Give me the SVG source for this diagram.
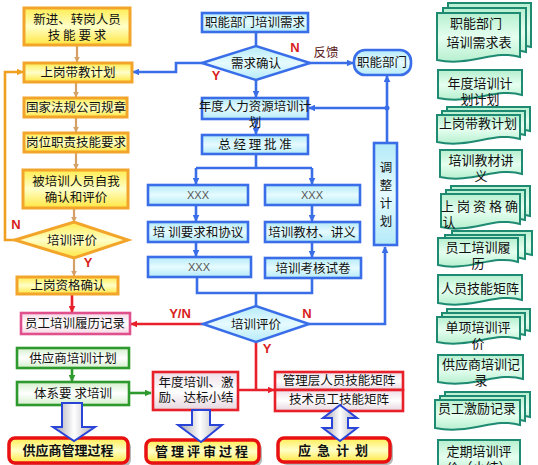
<svg xmlns="http://www.w3.org/2000/svg" width="538" height="465" viewBox="0 0 538 465">
<defs>
<linearGradient id="gY" x1="0" y1="0" x2="0" y2="1"><stop offset="0" stop-color="#ffec50"/><stop offset="0.5" stop-color="#ffffc8"/><stop offset="1" stop-color="#ffe640"/></linearGradient>
<linearGradient id="gB" x1="0" y1="0" x2="0" y2="1"><stop offset="0" stop-color="#b4eaf8"/><stop offset="0.5" stop-color="#e6fbff"/><stop offset="1" stop-color="#b4eaf8"/></linearGradient>
<linearGradient id="gG" x1="0" y1="0" x2="0" y2="1"><stop offset="0" stop-color="#d4efcc"/><stop offset="0.5" stop-color="#ffffff"/><stop offset="1" stop-color="#d4efcc"/></linearGradient>
<linearGradient id="gP" x1="0" y1="0" x2="0" y2="1"><stop offset="0" stop-color="#f6d6e4"/><stop offset="0.5" stop-color="#ffffff"/><stop offset="1" stop-color="#f6d6e4"/></linearGradient>
<linearGradient id="gR" x1="0" y1="0" x2="0" y2="1"><stop offset="0" stop-color="#eedde6"/><stop offset="0.5" stop-color="#ffffff"/><stop offset="1" stop-color="#e6d6de"/></linearGradient>
<linearGradient id="gD" x1="0" y1="0" x2="0" y2="1"><stop offset="0" stop-color="#b6efcf"/><stop offset="0.5" stop-color="#e6fff0"/><stop offset="1" stop-color="#b6efcf"/></linearGradient>
<linearGradient id="gA" x1="0" y1="0" x2="1" y2="0"><stop offset="0" stop-color="#9c9ca8"/><stop offset="0.5" stop-color="#ffffff"/><stop offset="1" stop-color="#aaaab4"/></linearGradient>
<marker id="mB" viewBox="0 0 10 10" refX="9" refY="5" markerWidth="7" markerHeight="7" markerUnits="userSpaceOnUse" orient="auto"><path d="M0,0 L10,5 L0,10 z" fill="#3a6ee8"/></marker>
<marker id="mR" viewBox="0 0 10 10" refX="9" refY="5" markerWidth="7" markerHeight="7" markerUnits="userSpaceOnUse" orient="auto"><path d="M0,0 L10,5 L0,10 z" fill="#e8202a"/></marker>
<marker id="mT" viewBox="0 0 10 10" refX="9" refY="5" markerWidth="6" markerHeight="6" markerUnits="userSpaceOnUse" orient="auto"><path d="M0,0 L10,5 L0,10 z" fill="#d4a068"/></marker>
<marker id="mO" viewBox="0 0 10 10" refX="9" refY="5" markerWidth="7" markerHeight="7" markerUnits="userSpaceOnUse" orient="auto"><path d="M0,0 L10,5 L0,10 z" fill="#f0a020"/></marker>
<marker id="mG" viewBox="0 0 10 10" refX="9" refY="5" markerWidth="7" markerHeight="7" markerUnits="userSpaceOnUse" orient="auto"><path d="M0,0 L10,5 L0,10 z" fill="#2e9a2e"/></marker>
</defs>
<style>
text{font-family:"Noto Sans CJK SC","Liberation Sans",sans-serif;font-size:12.5px;fill:#111;text-anchor:middle}
.ob{fill:url(#gY);stroke:#f2a52a;stroke-width:3}
.bb{fill:url(#gB);stroke:#3a6ee8;stroke-width:2.6}
.gb{fill:url(#gG);stroke:#2e9a2e;stroke-width:2.6}
.pb{fill:url(#gP);stroke:#e0508c;stroke-width:2.6}
.rb{fill:url(#gR);stroke:#e8202a;stroke-width:2.6}
.fb{fill:url(#gY);stroke:#e81010;stroke-width:3.5}
.sh{fill:#b8b8b8}
.doc{fill:url(#gD);stroke:#1e8a72;stroke-width:2}
.ba{fill:url(#gA);stroke:#2a44d8;stroke-width:2}
.lb{fill:none;stroke:#3a6ee8;stroke-width:2.6}
.lr{fill:none;stroke:#e8202a;stroke-width:2.6}
.lt{fill:none;stroke:#d4a068;stroke-width:2.2}
.lo{fill:none;stroke:#f0a020;stroke-width:2.6}
.lg{fill:none;stroke:#2e9a2e;stroke-width:2.6}
.lbl{fill:#d81e1e;font-weight:bold;font-family:"Liberation Sans",sans-serif;font-size:13px}
.x{font-family:"Liberation Sans",sans-serif;font-size:11px;fill:#555}
.bold{font-weight:bold;font-size:13px}
.d{font-size:13px}
</style>

<g id="connectors">
<path class="lt" d="M77,45 V62" marker-end="url(#mT)"/>
<path class="lt" d="M76,82 V97" marker-end="url(#mT)"/>
<path class="lt" d="M76,117 V132" marker-end="url(#mT)"/>
<path class="lt" d="M76,152 V169" marker-end="url(#mT)"/>
<path class="lt" d="M74,208 V222" marker-end="url(#mT)"/>
<path class="lt" d="M74,258 V276" marker-end="url(#mT)"/>
<path class="lr" d="M72,294 V312" marker-end="url(#mR)"/>
<path class="lo" d="M15,240 H5 V72 H23" marker-end="url(#mO)"/>
<path class="lg" d="M72,368 V381" marker-end="url(#mG)"/>
<path class="lg" d="M129,393 H151" marker-end="url(#mG)"/>
<path class="lb" d="M256,32 V46"/>
<path class="lb" d="M202,63 H176 V72 H133" marker-end="url(#mB)"/>
<path class="lb" d="M310,63 H353" marker-end="url(#mB)"/>
<path class="lb" d="M256,80 V97" marker-end="url(#mB)"/>
<path class="lb" d="M256,119 V134" marker-end="url(#mB)"/>
<path class="lb" d="M387,143 V76" marker-end="url(#mB)"/>
<path class="lb" d="M387,108 H309" marker-end="url(#mB)"/>
<circle cx="387" cy="108" r="2.5" fill="#3a6ee8"/>
<path class="lb" d="M256,154 V168 M196,168 H312"/>
<path class="lb" d="M196,168 V184" marker-end="url(#mB)"/>
<path class="lb" d="M312,168 V184" marker-end="url(#mB)"/>
<path class="lb" d="M196,205 V221" marker-end="url(#mB)"/>
<path class="lb" d="M312,205 V221" marker-end="url(#mB)"/>
<path class="lb" d="M196,242 V256" marker-end="url(#mB)"/>
<path class="lb" d="M312,242 V257" marker-end="url(#mB)"/>
<path class="lb" d="M197,277 V293 H312 V278 M256,293 V306"/>
<path class="lb" d="M309,324 H385 V247" marker-end="url(#mB)"/>
<path class="lr" d="M203,324 H131" marker-end="url(#mR)"/>
<path class="lr" d="M256,342 V390 M239,390 H274" marker-end="url(#mR)"/>
</g>

<g id="n-xinjin"><rect class="ob" x="24" y="8" width="106" height="37"/><text x="77" y="23.5">新进、转岗人员</text><text x="77" y="40">技 能 要 求</text></g>
<g id="n-daijiao"><rect class="ob" x="24" y="63" width="108" height="19"/><text x="78" y="77">上岗带教计划</text></g>
<g id="n-fagui"><rect class="ob" x="24" y="98" width="103" height="19"/><text x="76" y="112">国家法规公司规章</text></g>
<g id="n-gangwei"><rect class="ob" x="24" y="133" width="104" height="19"/><text x="76" y="147">岗位职责技能要求</text></g>
<g id="n-beipeixun"><rect class="ob" x="23" y="170" width="105" height="38"/><text x="76" y="185.5">被培训人员自我</text><text x="76" y="201.5">确认和评价</text></g>
<g id="n-pingjia1"><polygon class="ob" points="15,240 74,222 128,240 74,258"/><text x="72" y="244.5">培训评价</text></g>
<g id="n-zige"><rect class="ob" x="17" y="277" width="101" height="17"/><text x="68" y="290">上岗资格确认</text></g>
<g id="n-lvli"><rect class="pb" x="21" y="313" width="109" height="21"/><text x="75" y="328">员工培训履历记录</text></g>
<g id="n-gys"><rect class="gb" x="17" y="348" width="112" height="20"/><text x="73" y="362.5">供应商培训计划</text></g>
<g id="n-tixi"><rect class="gb" x="17" y="382" width="112" height="23"/><text x="73" y="398">体系要 求培训</text></g>

<g id="n-xuqiu"><rect class="bb" x="202" y="13" width="106" height="19"/><text x="255" y="27">职能部门培训需求</text></g>
<g id="n-queren"><polygon class="bb" points="202,63 256,46 310,63 256,80"/><text x="256" y="67.5">需求确认</text></g>
<g id="n-bumen"><rect class="bb" x="354" y="50" width="57" height="25" rx="11"/><text x="382" y="67">职能部门</text></g>
<g id="n-niandu"><rect class="bb" x="202" y="98" width="106" height="21"/><text x="255" y="111">年度人力资源培训计</text><text x="255" y="127">划</text></g>
<g id="n-pizhun"><rect class="bb" x="202" y="135" width="106" height="19"/><text x="255" y="149">总 经 理 批 准</text></g>
<g id="n-xxx1"><rect class="bb" x="148" y="185" width="100" height="20"/><text class="x" x="198" y="199">XXX</text></g>
<g id="n-xxx2"><rect class="bb" x="265" y="185" width="95" height="20"/><text class="x" x="312" y="199">XXX</text></g>
<g id="n-xieyi"><rect class="bb" x="148" y="222" width="100" height="20"/><text x="198" y="236.5">培 训要求和协议</text></g>
<g id="n-jiaocai"><rect class="bb" x="265" y="222" width="95" height="20"/><text x="312" y="236.5">培训教材、讲义</text></g>
<g id="n-xxx3"><rect class="bb" x="148" y="257" width="103" height="20"/><text class="x" x="199" y="271">XXX</text></g>
<g id="n-shijuan"><rect class="bb" x="265" y="258" width="96" height="20"/><text x="313" y="272.5">培训考核试卷</text></g>
<g id="n-pingjia2"><polygon class="bb" points="203,324 256,306 309,324 256,342"/><text x="256" y="328.5">培训评价</text></g>
<g id="n-tiaozheng"><rect class="bb" x="374" y="143" width="23" height="102"/><text x="386" y="172" font-size="14">调</text><text x="386" y="190" font-size="14">整</text><text x="386" y="208" font-size="14">计</text><text x="386" y="226" font-size="14">划</text></g>

<g id="n-xiaojie"><rect class="rb" x="153" y="372" width="85" height="38"/><text x="196" y="386.5">年度培训、激</text><text x="196" y="401.5">励、达标小结</text></g>
<g id="n-guanli"><rect class="rb" x="275" y="372" width="128" height="18"/><text x="339" y="385">管理层人员技能矩阵</text></g>
<g id="n-jishu"><rect class="rb" x="275" y="390" width="128" height="21"/><text x="339" y="404">技术员工技能矩阵</text></g>

<g id="n-gysgl"><rect class="sh" x="12" y="441" width="119" height="25" rx="6"/><rect class="fb" x="9" y="438" width="119" height="25" rx="6"/><text class="bold" x="68" y="455">供应商管理过程</text></g>
<g id="n-pingshen"><rect class="sh" x="149" y="443" width="113" height="23" rx="6"/><rect class="fb" x="146" y="440" width="113" height="23" rx="6"/><text class="bold" x="203" y="456" letter-spacing="3">管理评审过程</text></g>
<g id="n-yingji"><rect class="sh" x="281" y="441" width="112" height="24" rx="6"/><rect class="fb" x="278" y="438" width="112" height="24" rx="6"/><text class="bold" x="336" y="455" letter-spacing="6">应急计划</text></g>

<g id="blockarrows">
<path class="ba" d="M62,403 H82 V427 H95 L74,441 L53,427 H62 Z"/>
<path class="ba" d="M192,410 H210 V425 H222 L201,442 L178,425 H192 Z"/>
<path class="ba" d="M340,405 L357,418 H348 V428 H357 L340,441 L323,428 H332 V418 H323 Z"/>
</g>

<g id="d-xuqiubiao"><path class="doc" transform="translate(448,3)" d="M0,0 h83 v44 c-25,-8 -50,10 -83,3 z"/><path class="doc" transform="translate(443,8)" d="M0,0 h83 v44 c-25,-8 -50,10 -83,3 z"/><path class="doc" transform="translate(437,13)" d="M0,0 h83 v44 c-25,-8 -50,10 -83,3 z"/><text class="d" x="476" y="28">职能部门</text><text class="d" x="479" y="47">培训需求表</text></g>
<g id="d-niandu"><path class="doc" transform="translate(438,70)" d="M0,0 h84 v25 c-25,-8 -50,10 -84,3 z"/><text class="d" x="480" y="88">年度培训计</text><text class="d" x="480" y="104">划计划</text></g>
<g id="d-daijiao"><path class="doc" transform="translate(447,107)" d="M0,0 h83 v24 c-25,-8 -50,10 -83,3 z"/><path class="doc" transform="translate(442,111)" d="M0,0 h83 v24 c-25,-8 -50,10 -83,3 z"/><path class="doc" transform="translate(437,115)" d="M0,0 h83 v24 c-25,-8 -50,10 -83,3 z"/><text class="d" x="478" y="128">上岗带教计划</text></g>
<g id="d-jiaocai"><path class="doc" transform="translate(440,150)" d="M0,0 h82 v24 c-25,-8 -50,10 -82,3 z"/><text class="d" x="481" y="165">培训教材讲</text><text class="d" x="481" y="181">义</text></g>
<g id="d-zige"><path class="doc" transform="translate(451,186)" d="M0,0 h79 v30 c-25,-8 -50,10 -79,3 z"/><path class="doc" transform="translate(446,190)" d="M0,0 h79 v30 c-25,-8 -50,10 -79,3 z"/><path class="doc" transform="translate(441,194)" d="M0,0 h79 v30 c-25,-8 -50,10 -79,3 z"/><text class="d" x="481" y="211" letter-spacing="3">上岗资格确</text><text class="d" x="449" y="227">认</text></g>
<g id="d-lvli"><path class="doc" transform="translate(452,231)" d="M0,0 h80 v24 c-25,-8 -50,10 -80,3 z"/><path class="doc" transform="translate(445,235)" d="M0,0 h80 v24 c-25,-8 -50,10 -80,3 z"/><path class="doc" transform="translate(438,238)" d="M0,0 h80 v24 c-25,-8 -50,10 -80,3 z"/><text class="d" x="478" y="252">员工培训履</text><text class="d" x="478" y="268">历</text></g>
<g id="d-juzhen"><path class="doc" transform="translate(438,275)" d="M0,0 h84 v25 c-25,-8 -50,10 -84,3 z"/><text class="d" x="480" y="293">人员技能矩阵</text></g>
<g id="d-danxiang"><path class="doc" transform="translate(447,309)" d="M0,0 h83 v22 c-25,-8 -50,10 -83,3 z"/><path class="doc" transform="translate(442,313)" d="M0,0 h83 v22 c-25,-8 -50,10 -83,3 z"/><path class="doc" transform="translate(437,317)" d="M0,0 h83 v22 c-25,-8 -50,10 -83,3 z"/><text class="d" x="478" y="332">单项培训评</text><text class="d" x="478" y="348">价</text></g>
<g id="d-gys"><path class="doc" transform="translate(438,355)" d="M0,0 h85 v24 c-25,-8 -50,10 -85,3 z"/><text class="d" x="481" y="369">供应商培训记</text><text class="d" x="481" y="385">录</text></g>
<g id="d-jili"><path class="doc" transform="translate(445,392)" d="M0,0 h85 v25 c-25,-8 -50,10 -85,3 z"/><path class="doc" transform="translate(440,396)" d="M0,0 h85 v25 c-25,-8 -50,10 -85,3 z"/><path class="doc" transform="translate(435,400)" d="M0,0 h85 v25 c-25,-8 -50,10 -85,3 z"/><text class="d" x="477" y="413">员工激励记录</text></g>
<g id="d-dingqi"><path class="doc" transform="translate(438,440)" d="M0,0 h82 v30 c-25,-8 -50,10 -82,3 z"/><text class="d" x="479" y="456">定期培训评</text><text class="d" x="479" y="472">价（小结）</text></g>

<g id="labels">
<text class="lbl" x="295" y="52">N</text>
<text x="326" y="57" style="fill:#5a2020">反馈</text>
<text class="lbl" x="216" y="80">Y</text>
<text class="lbl" x="16" y="229">N</text>
<text class="lbl" x="88" y="267">Y</text>
<text class="lbl" x="180" y="318">Y/N</text>
<text class="lbl" x="307" y="318">N</text>
<text class="lbl" x="267" y="353">Y</text>
</g>
</svg>
